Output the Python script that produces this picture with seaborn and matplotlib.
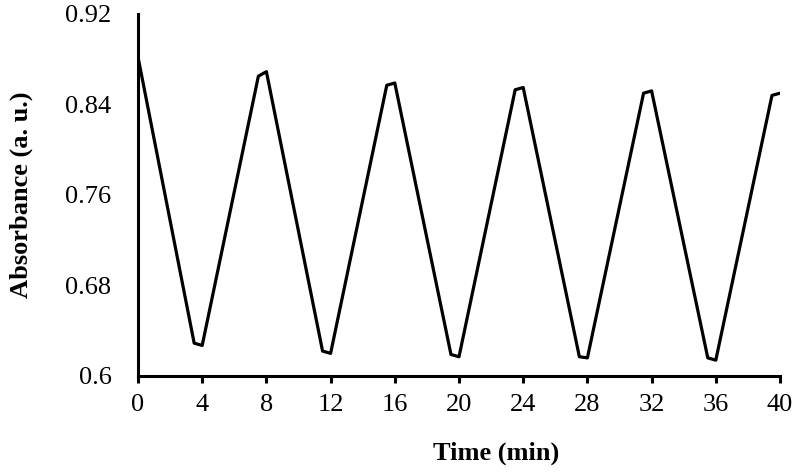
import matplotlib
matplotlib.use('Agg')
import matplotlib.pyplot as plt
import numpy as np
import seaborn as sns

# 读图得到的数据
time_min = [0, 3.5, 4, 7.5, 8, 11.5, 12, 15.5, 16, 19.5, 20,
            23.5, 24, 27.5, 28, 31.5, 32, 35.5, 36, 39.5, 40]
absorbance = [0.882, 0.629, 0.627, 0.865, 0.869, 0.622, 0.620, 0.857, 0.859, 0.619, 0.617,
              0.853, 0.855, 0.617, 0.616, 0.850, 0.852, 0.616, 0.614, 0.848, 0.850]
xticks = [0, 4, 8, 12, 16, 20, 24, 28, 32, 36, 40]
yticks = [0.6, 0.68, 0.76, 0.84, 0.92]
ytick_labels = ['0.6', '0.68', '0.76', '0.84', '0.92']

sns.set_style('ticks')
plt.rcParams['font.family'] = ['Liberation Serif', 'DejaVu Serif']
plt.rcParams['text.color'] = 'black'
plt.rcParams['axes.labelcolor'] = 'black'

fig = plt.figure(figsize=(8, 4.74), dpi=100)
ax = fig.add_axes([0.1725, 0.2068, 0.8025, 0.7637])

sns.lineplot(x=time_min, y=absorbance, color='black', linewidth=2.3, ax=ax)

ax.set_xlim(0, 40)
ax.set_ylim(0.6, 0.92)
ax.set_xticks(xticks)
ax.set_yticks(yticks, ytick_labels)

# 只保留左边和底边
for s in ['top', 'right']:
    ax.spines[s].set_visible(False)
for s in ['left', 'bottom']:
    ax.spines[s].set_linewidth(2.2)
    ax.spines[s].set_color('black')

ax.tick_params(axis='x', length=5, width=2.2, pad=8, labelsize=19, colors='black')
ax.tick_params(axis='y', length=0, pad=19, labelsize=19, colors='black')

ax.set_xlabel('Time (min)', fontsize=19, fontweight='bold', color='black')
ax.set_ylabel('Absorbance (a. u.)', fontsize=19, fontweight='bold', color='black')
ax.xaxis.set_label_coords(0.558, -0.18)
ax.yaxis.set_label_coords(-0.1636, 0.5)

fig.savefig('out.png', dpi=100)
